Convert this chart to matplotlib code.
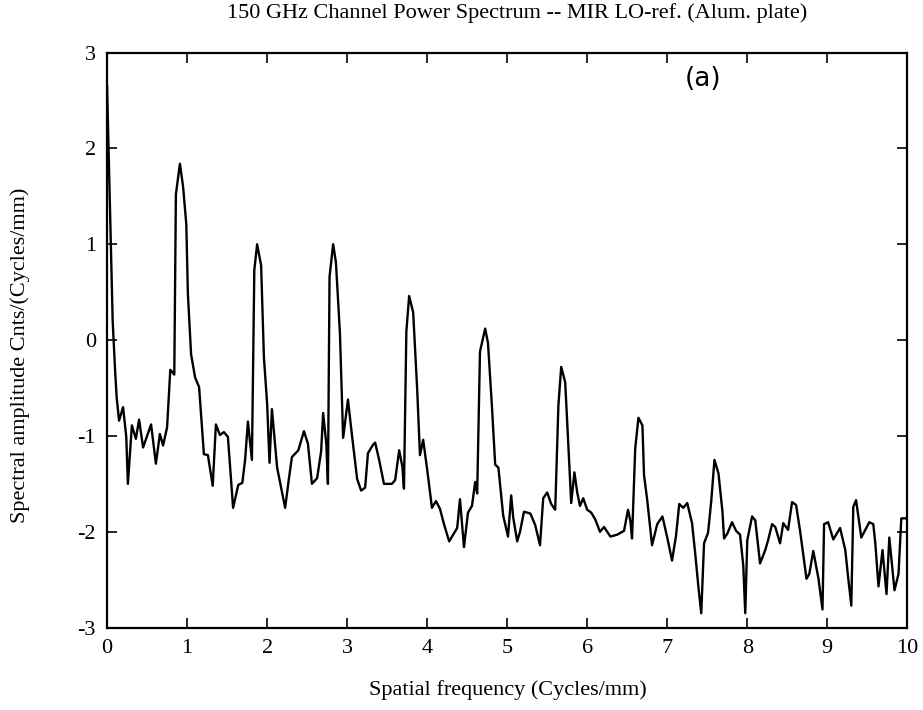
import numpy as np
import matplotlib as mpl
mpl.use('Agg')
import matplotlib.pyplot as plt

# spatial frequency (Cycles/mm)
freq = [0.00, 0.03, 0.07, 0.10, 0.12, 0.15, 0.19, 0.20, 0.24, 0.26, 0.31, 0.36, 0.40, 0.45,
        0.55, 0.61, 0.66, 0.70, 0.75, 0.79, 0.84, 0.86, 0.91, 0.95, 0.99, 1.01, 1.05, 1.10,
        1.15, 1.21, 1.26, 1.32, 1.36, 1.41, 1.46, 1.51, 1.575, 1.64, 1.69, 1.725, 1.76, 1.81,
        1.84, 1.875, 1.925, 1.96, 2.00, 2.03, 2.06, 2.125, 2.225, 2.275, 2.31, 2.39, 2.46, 2.51,
        2.56, 2.625, 2.675, 2.70, 2.74, 2.76, 2.78, 2.825, 2.86, 2.91, 2.95, 3.01, 3.06, 3.125,
        3.175, 3.225, 3.26, 3.325, 3.35, 3.40, 3.46, 3.56, 3.60, 3.65, 3.69, 3.71, 3.74, 3.775,
        3.825, 3.875, 3.91, 3.95, 4.00, 4.06, 4.11, 4.16, 4.21, 4.275, 4.375, 4.41, 4.46, 4.51,
        4.56, 4.60, 4.625, 4.66, 4.725, 4.76, 4.81, 4.85, 4.89, 4.95, 5.01, 5.05, 5.075, 5.125,
        5.16, 5.21, 5.29, 5.35, 5.41, 5.45, 5.50, 5.55, 5.60, 5.64, 5.675, 5.725, 5.76, 5.80,
        5.84, 5.875, 5.91, 5.95, 6.00, 6.05, 6.10, 6.16, 6.21, 6.29, 6.375, 6.44, 6.46, 6.51,
        6.54, 6.56, 6.60, 6.64, 6.69, 6.71, 6.75, 6.81, 6.875, 6.94, 7.00, 7.06, 7.11, 7.15,
        7.20, 7.25, 7.31, 7.35, 7.39, 7.425, 7.46, 7.51, 7.55, 7.59, 7.64, 7.69, 7.71, 7.75,
        7.81, 7.86, 7.91, 7.95, 7.975, 8.00, 8.06, 8.10, 8.16, 8.225, 8.26, 8.31, 8.35, 8.41,
        8.45, 8.51, 8.56, 8.61, 8.66, 8.74, 8.775, 8.825, 8.89, 8.94, 8.96, 9.01, 9.075, 9.16,
        9.225, 9.26, 9.30, 9.325, 9.36, 9.425, 9.475, 9.525, 9.575, 9.60, 9.64, 9.69, 9.74,
        9.775, 9.84, 9.89, 9.925, 9.95, 10.00]

# spectral amplitude Cnts/(Cycles/mm)
ampl = [2.65, 1.60, 0.20, -0.31, -0.60, -0.84, -0.73, -0.70, -1.01, -1.50, -0.89, -1.03, -0.83, -1.12,
        -0.88, -1.29, -0.98, -1.10, -0.91, -0.31, -0.36, 1.52, 1.84, 1.60, 1.21, 0.48, -0.15, -0.39,
        -0.49, -1.19, -1.20, -1.52, -0.88, -0.99, -0.96, -1.01, -1.75, -1.51, -1.49, -1.25, -0.85, -1.25,
        0.73, 1.00, 0.78, -0.18, -0.66, -1.28, -0.72, -1.33, -1.75, -1.43, -1.22, -1.15, -0.95, -1.08,
        -1.50, -1.44, -1.16, -0.76, -1.09, -1.50, 0.66, 1.00, 0.81, 0.07, -1.02, -0.62, -0.99, -1.45,
        -1.57, -1.54, -1.18, -1.09, -1.07, -1.25, -1.50, -1.50, -1.46, -1.15, -1.32, -1.55, 0.09, 0.46,
        0.29, -0.51, -1.20, -1.04, -1.35, -1.75, -1.68, -1.76, -1.92, -2.10, -1.96, -1.66, -2.16, -1.80,
        -1.73, -1.48, -1.60, -0.12, 0.12, -0.03, -0.70, -1.30, -1.33, -1.83, -2.05, -1.62, -1.85, -2.10,
        -2.00, -1.79, -1.81, -1.93, -2.14, -1.65, -1.59, -1.71, -1.77, -0.68, -0.28, -0.44, -1.03, -1.70,
        -1.38, -1.59, -1.73, -1.65, -1.77, -1.80, -1.87, -2.00, -1.95, -2.05, -2.03, -2.00, -1.99, -1.77,
        -1.89, -2.07, -1.13, -0.81, -0.89, -1.41, -1.67, -2.14, -1.92, -1.84, -2.06, -2.30, -2.04, -1.71,
        -1.75, -1.70, -1.91, -2.23, -2.58, -2.85, -2.12, -2.01, -1.68, -1.25, -1.39, -1.79, -2.07, -2.02,
        -1.90, -1.99, -2.03, -2.35, -2.85, -2.09, -1.84, -1.88, -2.33, -2.19, -2.09, -1.92, -1.95, -2.12,
        -1.91, -1.98, -1.69, -1.72, -1.99, -2.49, -2.44, -2.20, -2.49, -2.81, -1.92, -1.90, -2.08, -1.96,
        -2.19, -2.47, -2.77, -1.74, -1.67, -2.06, -1.98, -1.90, -1.92, -2.12, -2.57, -2.19, -2.65,
        -2.06, -2.61, -2.44, -1.86, -1.86, -1.86]

xticks = np.arange(0, 11, 1)
yticks = np.arange(-3, 4, 1)

def main():
    plt.rcParams['font.family'] = ['Liberation Serif', 'DejaVu Serif']
    plt.rcParams['axes.unicode_minus'] = False
    fig = plt.figure(figsize=(9.23, 7.10), dpi=100)
    ax = fig.add_axes([0.116, 0.116, 0.867, 0.810])

    ax.plot(freq, ampl, color='k', linewidth=1.7)

    ax.set_xlim(0, 10)
    ax.set_ylim(-3, 3)
    ax.set_xticks(xticks)
    ax.set_yticks(yticks)
    ax.tick_params(axis='both', direction='in', length=7, width=1.2,
                   top=True, right=True, labelsize=16, pad=8)
    for sp in ax.spines.values():
        sp.set_linewidth(1.6)

    fig.text(0.55, 0.028, 'Spatial frequency (Cycles/mm)', fontsize=16,
             ha='center', va='center')
    fig.text(0.022, 0.50, 'Spectral amplitude Cnts/(Cycles/mm)', fontsize=16,
             rotation=90, ha='center', va='center')
    fig.text(0.56, 0.982, '150 GHz Channel Power Spectrum -- MIR LO-ref. (Alum. plate)',
             fontsize=16, ha='center', va='center')
    ax.text(7.45, 2.72, '(a)', fontsize=19, family='DejaVu Sans',
            ha='center', va='center')

    fig.savefig('out.png', dpi=100)
    plt.close()

if __name__ == "__main__":
    main()
